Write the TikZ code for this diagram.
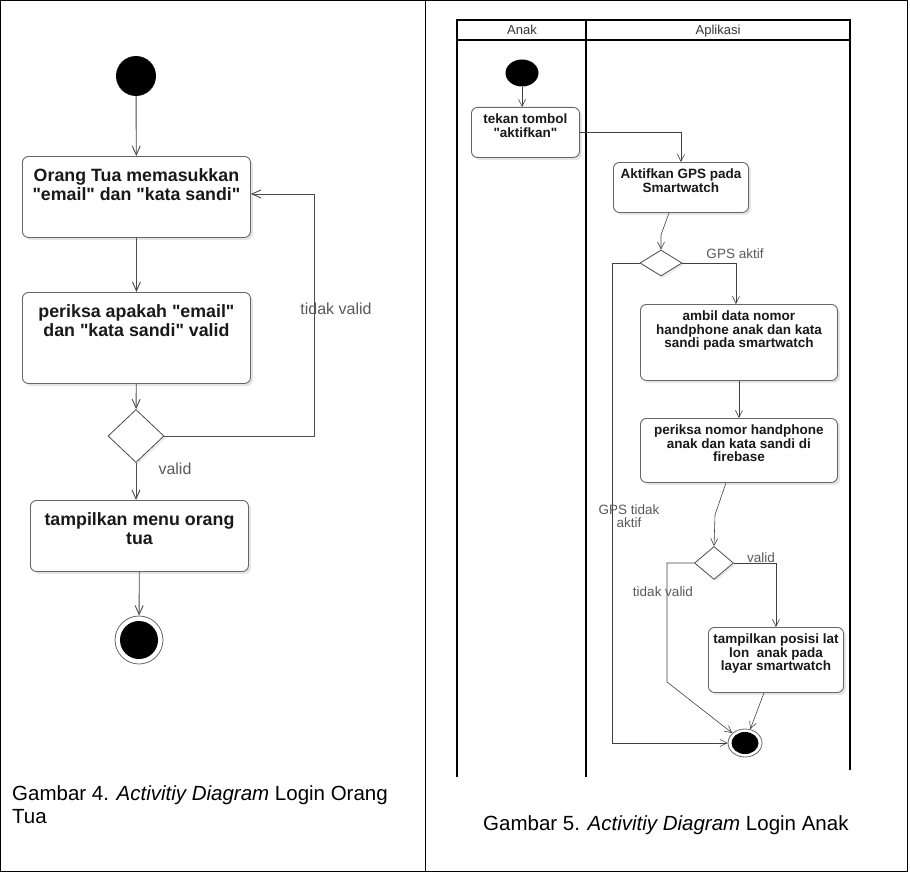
\documentclass[tikz,border=0pt]{standalone}
\usepackage{fontspec}
\setmainfont{Liberation Sans}
\usepackage{tikz}
\usetikzlibrary{arrows.meta,shapes.geometric,shadows}

\begin{document}
\begin{tikzpicture}[x=1pt, y=-1pt,
  >={Straight Barb[length=9pt,width=8pt]},
  act/.style={draw=black!60, line width=0.9pt, rounded corners=6pt, fill=white,
    anchor=north west, inner sep=0pt,
    drop shadow={fill=black!25, opacity=0.4, shadow xshift=2.5pt, shadow yshift=-2.5pt}},
  acttext/.style={anchor=north, inner sep=0pt, align=center, text=black!90,
    yshift=-12pt, font=\bfseries\fontsize{17.8}{19.5}\selectfont},
  acttextsm/.style={anchor=north, inner sep=0pt, align=center, text=black!90,
    yshift=-7pt, font=\bfseries\fontsize{13.5}{13.3}\selectfont},
  choice/.style={diamond, draw=black!70, line width=0.8pt, fill=white, inner sep=0pt,
    drop shadow={fill=black!25, opacity=0.3, shadow xshift=2pt, shadow yshift=-2pt}},
  initial/.style={circle, fill=black, inner sep=0pt},
  final/.style={circle, draw=black!60, line width=0.8pt, fill=white, inner sep=0pt},
  flow/.style={->, draw=black!70, line width=0.9pt},
  flowsm/.style={-{Straight Barb[length=7pt,width=7pt]}, draw=black!75, line width=0.6pt},
  guard/.style={text=black!65, inner sep=0pt, font=\fontsize{16}{18}\selectfont},
  guardsm/.style={guard, align=center, font=\fontsize{13.5}{13.5}\selectfont},
  lanehead/.style={anchor=base, text=black!80, font=\fontsize{13}{13}\selectfont},
  lane/.style={line width=1.6pt},
  caption/.style={inner sep=0pt, align=left, font=\fontsize{20.5}{23}\selectfont}
]
  \useasboundingbox (0,0) rectangle (910,872);
  \draw[line width=0.8pt] (0.5,0.5) rectangle (907,871.5);
  \draw[line width=0.8pt] (425,0) -- (425,872);

  \node[initial, minimum size=40] (start) at (136,76) {};
  \node[act, minimum width=228, minimum height=81,
    label={[acttext]north:{Orang Tua memasukkan\\\textquotedbl email\textquotedbl{} dan \textquotedbl kata sandi\textquotedbl}}] (masuk) at (22,156) {};
  \node[act, minimum width=228, minimum height=91,
    label={[acttext]north:{periksa apakah \textquotedbl email\textquotedbl\\dan \textquotedbl kata sandi\textquotedbl{} valid}}] (cek) at (22,292) {};
  \node[choice, minimum width=56, minimum height=53] (pilih) at (136,436) {};
  \node[act, minimum width=218, minimum height=71,
    label={[acttext]north:{tampilkan menu orang\\tua}}] (menu) at (30,500) {};
  \node[final, minimum size=48] (ende) at (139,640) {};
  \fill (ende.center) circle (19);

  \draw[flow] (start) -- (masuk);
  \draw[flow] (masuk) -- (cek);
  \draw[flow] (cek) -- (pilih);
  \draw[flow] (pilih.east) -- ++(150,0) |- ([yshift=3pt]masuk.east);
  \draw[flow] (pilih.south) -- (pilih.south |- menu.north);
  \draw[flow] (menu) -- (ende);
  \node[guard] (tidak) at (336,309) {tidak valid};
  \node[guard] (valid) at (175,469) {valid};

  \node[caption, anchor=north west] (cap4) at (12,785)
    {Gambar 4. \textit{Activitiy Diagram} Login Orang\\Tua};

  \draw[lane] (457,777) -- (457,20) -- (850,20) -- (850,770);
  \draw[lane] (457,40) -- (850,40);
  \draw[lane] (586,20) -- (586,777);
  \node[lanehead] (anak) at (522,35) {Anak};
  \node[lanehead] (apl) at (718,35) {Aplikasi};

  \node[initial, ellipse, minimum width=33, minimum height=27] (mulai) at (522,73) {};
  \node[act, minimum width=108, minimum height=50,
    label={[acttextsm]north:{tekan tombol\\\textquotedbl aktifkan\textquotedbl}}] (tekan) at (471,107) {};
  \node[act, minimum width=135, minimum height=50,
    label={[acttextsm]north:{Aktifkan GPS pada\\Smartwatch}}] (aktif) at (613,162) {};
  \node[choice, minimum width=42, minimum height=26] (gps) at (661,263) {};
  \node[act, minimum width=197, minimum height=76,
    label={[acttextsm]north:{ambil data nomor\\handphone anak dan kata\\sandi pada smartwatch}}] (ambil) at (640,304) {};
  \node[act, minimum width=197, minimum height=64,
    label={[acttextsm]north:{periksa nomor handphone\\anak dan kata sandi di\\firebase}}] (periksa) at (640,418) {};
  \node[choice, minimum width=39, minimum height=33] (cocok) at (714,563) {};
  \node[act, minimum width=135, minimum height=65,
    label={[acttextsm]north:{tampilkan posisi lat\\lon\ \ anak pada\\layar smartwatch}}] (tampil) at (708,627) {};
  \node[final, ellipse, minimum width=34, minimum height=28] (ende2) at (745,743) {};
  \fill (ende2.center) ellipse (13.5 and 11);

  \draw[flowsm] (mulai.south) -- (mulai.south |- tekan.north);
  \draw[flowsm] (tekan.east) -| (aktif.north);
  \draw[flowsm] ([xshift=-12pt]aktif.south) -- (661,235) -- (gps.north);
  \draw[flowsm] (gps.east) -| ([xshift=-3pt]ambil.north);
  \draw[flowsm] (gps.west) -- ++(-27,0) |- (ende2.west);
  \draw[flowsm] (ambil) -- (periksa);
  \draw[flowsm] ([xshift=-13pt]periksa.south) -- (715,515) -- (cocok.north);
  \draw[flowsm] (cocok.east) -| (tampil.north);
  \draw[flowsm] (cocok.west) -- (667,563) -- (667,682) -- (ende2);
  \draw[flowsm] ([xshift=-12pt]tampil.south) -- (ende2);
  \node[guardsm] (aktifya) at (735,254) {GPS aktif};
  \node[guardsm] (aktiftidak) at (629,516) {GPS tidak\\aktif};
  \node[guardsm] (validya) at (761,558) {valid};
  \node[guardsm] (validtidak) at (663,592) {tidak valid};

  \node[caption, anchor=base west] (cap5) at (483,830.7)
    {Gambar 5. \textit{Activitiy Diagram} Login Anak};
\end{tikzpicture}
\end{document}
